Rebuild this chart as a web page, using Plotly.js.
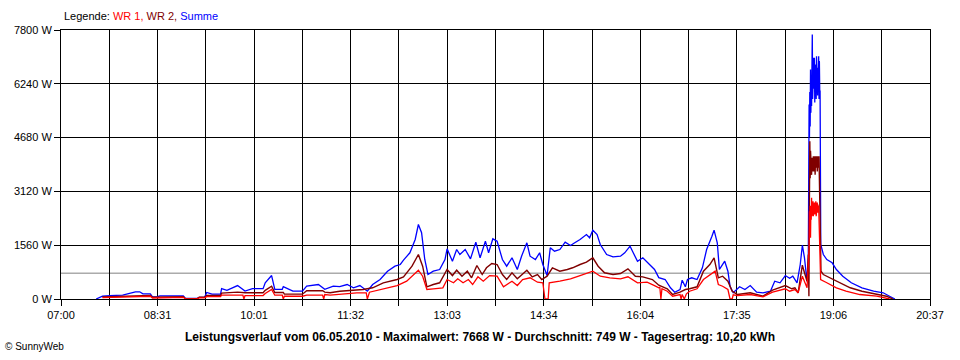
<!DOCTYPE html>
<html>
<head>
<meta charset="utf-8">
<script src="https://cdn.plot.ly/plotly-3.0.1.min.js"></script>
<style>html,body{margin:0;padding:0;background:#fff;}#chart{width:960px;height:360px;}</style>
</head>
<body>
<div id="chart"></div>
<script>
// ---- Data (time of day, watts) ----
const sumTime = ["07:33","07:39","07:46","07:58","08:10","08:14","08:17","08:24","08:26","08:30","08:33","08:55","08:57","09:08","09:10","09:15","09:17","09:22","09:30","09:31","09:36","09:46","09:53","10:00","10:10","10:12","10:18","10:21","10:28","10:29","10:38","10:47","10:51","11:02","11:08","11:16","11:22","11:29","11:35","11:41","11:48","11:53","12:00","12:07","12:14","12:19","12:22","12:28","12:33","12:36","12:39","12:42","12:45","12:50","12:56","13:01","13:03","13:08","13:12","13:15","13:20","13:25","13:30","13:34","13:39","13:42","13:46","13:50","13:55","13:59","14:04","14:09","14:13","14:18","14:21","14:26","14:30","14:33","14:37","14:40","14:44","14:49","14:54","14:59","15:03","15:08","15:14","15:17","15:20","15:24","15:27","15:33","15:39","15:46","15:50","15:55","15:58","16:02","16:07","16:12","16:18","16:22","16:28","16:33","16:37","16:42","16:44","16:47","16:49","16:53","16:58","17:03","17:07","17:12","17:14","17:17","17:19","17:21","17:24","17:27","17:29","17:32","17:38","17:43","17:48","17:54","18:00","18:07","18:11","18:16","18:21","18:25","18:28","18:32","18:35","18:37","18:39","18:40:30","18:41:24","18:42:36","18:43:00","18:43:20","18:43:40","18:44:00","18:44:20","18:44:40","18:45:00","18:45:20","18:45:40","18:46:00","18:46:20","18:46:40","18:47:00","18:47:20","18:47:40","18:48:00","18:48:20","18:48:40","18:49:00","18:49:20","18:49:40","18:50:00","18:50:20","18:50:40","18:51:00","18:51:20","18:51:40","18:52:00","18:52:20","18:52:40","18:53:00","18:53:20","18:53:40","18:54:18","18:56:42","19:00","19:05","19:09","19:15","19:23","19:33","19:44","19:53","19:59","20:04"];
const sumWatt = [0,80,96,110,209,209,150,150,60,60,90,90,15,15,50,50,190,140,140,300,250,390,230,300,300,470,680,280,280,360,230,230,375,420,280,375,360,420,325,390,226,420,565,806,951,1000,1125,1340,1725,2160,1920,1145,710,806,855,1145,1455,1096,1435,1290,1435,1165,1647,1194,1676,1340,1745,1676,1145,951,1194,855,1241,1630,1241,1145,1340,1000,680,1485,1386,1435,1647,1550,1630,1725,1870,1775,1995,1870,1580,1290,1223,1241,1340,1531,1340,1096,1194,1050,855,620,565,325,197,275,545,354,565,615,565,905,1435,1821,1995,1630,855,951,1096,806,371,180,354,275,390,197,180,226,516,470,680,600,661,470,1000,1560,1194,760,516,1194,4300,5640,4700,6000,5000,6655,5400,6316,5600,6500,7668,5800,6896,5900,6994,6100,6994,5700,6800,6000,6510,5800,7041,6000,6900,5900,6705,6100,7041,5800,6900,6026,6026,1580,1290,1145,1050,855,661,470,325,226,180,81,0];

const wr2Time = ["07:39","08:10","08:24","08:26","08:30","08:33","08:55","08:57","09:08","09:10","09:15","09:17","09:30","09:31","09:46","09:53","10:10","10:12","10:18","10:21","10:29","10:30","10:47","10:51","11:06","11:08","11:13","11:22","11:32","11:44","11:53","12:03","12:16","12:22","12:30","12:36","12:40","12:44","12:50","12:56","13:03","13:08","13:12","13:17","13:22","13:26","13:31","13:36","13:40","13:45","13:50","13:55","13:59","14:04","14:09","14:13","14:18","14:23","14:28","14:32","14:37","14:42","14:49","14:56","15:01","15:08","15:14","15:20","15:25","15:31","15:39","15:46","15:53","16:00","16:07","16:16","16:22","16:30","16:35","16:42","16:47","16:51","16:58","17:04","17:10","17:14","17:18","17:22","17:27","17:31","17:36","17:48","18:00","18:09","18:21","18:27","18:30","18:33","18:37","18:39","18:41:24","18:42:36","18:43:10","18:43:40","18:44:00","18:44:20","18:44:40","18:45:00","18:45:20","18:45:40","18:46:00","18:46:20","18:46:40","18:47:00","18:47:20","18:47:40","18:48:00","18:48:20","18:48:40","18:49:00","18:49:20","18:49:40","18:50:00","18:50:20","18:50:40","18:51:00","18:51:20","18:51:40","18:52:00","18:52:20","18:52:40","18:53:00","18:53:20","18:53:40","18:54:30","18:56:42","19:03","19:12:30","19:22","19:33","19:44","19:56","20:02"];
const wr2Watt = [60,100,100,50,50,70,70,10,10,50,50,100,100,170,200,180,180,250,370,190,190,140,140,240,240,200,180,226,255,275,325,470,565,643,951,1290,951,354,420,470,855,680,835,661,806,615,971,710,905,1030,1000,710,565,760,586,710,835,643,710,565,661,905,806,855,905,1000,1067,1194,951,760,710,740,876,661,643,565,400,296,130,197,275,296,354,806,1000,1194,615,661,516,226,130,180,81,255,390,296,325,180,980,760,516,1290,81,3000,4576,3500,4300,3706,4200,3600,4095,3700,4000,3805,4141,3700,4141,3900,4000,3600,4141,3805,4141,3900,4141,3700,4141,3900,4141,3806,4141,3500,2400,2400,806,710,615,470,325,226,150,81,0];

const wr1Time = ["07:39","08:10","08:24","08:26","08:30","08:33","08:55","08:57","09:08","09:10","09:15","09:17","09:30","09:31","09:51","09:52","09:53","10:10","10:12","10:18","10:21","10:28","10:29","10:30","10:47","10:51","11:06","11:07","11:08","11:13","11:25","11:38","11:47","11:48","11:50","12:03","12:16","12:25","12:36","12:40","12:44","12:50","12:59","13:03","13:09","13:13","13:18","13:23","13:27","13:32","13:37","13:43","13:50","13:56","14:04","14:09","14:14","14:21","14:28","14:33","14:35","14:38","14:39","14:49","14:59","15:08","15:20","15:27","15:36","15:46","15:53","16:02","16:11","16:18","16:22","16:23","16:24","16:25","16:30","16:35","16:42","16:43","16:44","16:46","16:48","16:51","16:58","17:04","17:12","17:15","17:18","17:22","17:27","17:29","17:31","17:32","17:36","17:48","18:00","18:09","18:21","18:25","18:30","18:33","18:37","18:39:30","18:41:24","18:42:36","18:43:20","18:43:40","18:44:00","18:44:20","18:44:40","18:45:00","18:45:20","18:45:40","18:46:00","18:46:20","18:46:40","18:47:00","18:47:20","18:47:40","18:48:00","18:48:20","18:48:40","18:49:00","18:49:20","18:49:40","18:50:00","18:50:20","18:50:40","18:51:00","18:51:20","18:51:40","18:52:00","18:52:20","18:52:40","18:53:00","18:53:20","18:53:40","18:54:10","19:00","19:09","19:18","19:31","19:47","19:59"];
const wr1Watt = [40,80,80,30,30,50,50,5,5,30,30,70,70,110,110,0,100,100,160,280,110,110,0,80,80,110,110,0,130,110,150,180,180,0,197,296,390,516,835,661,275,296,325,565,470,586,470,565,420,643,516,680,661,354,516,390,565,615,487,470,0,0,470,516,586,680,806,661,615,586,643,470,487,390,325,340,0,300,226,81,130,0,130,0,150,226,296,565,760,806,420,371,275,0,0,120,100,130,64,197,296,226,275,180,661,470,325,1000,1500,2546,2000,2700,1775,2600,2300,2935,2400,2700,2450,2836,2400,2750,2546,2800,2450,2700,2546,2836,2400,2740,2546,2800,2500,2740,2546,2700,2300,2600,1386,1600,565,470,325,226,130,81,0];

const averageWatt = 749;
const xTickLabels = ["07:00","08:31","10:01","11:32","13:03","14:34","16:04","17:35","19:06","20:37"];
const yTickVals = [0,1560,3120,4680,6240,7800];
const yTickLabels = ["0 W","1560 W","3120 W","4680 W","6240 W","7800 W"];
const seriesNames = ["WR 1","WR 2","Summe"];
const titleText = "Leistungsverlauf vom 06.05.2010 - Maximalwert: 7668 W - Durchschnitt: 749 W - Tagesertrag: 10,20 kWh";

// ---- helpers ----
function toMin(s){const p=s.split(':').map(Number);return p[0]*60+p[1]+(p[2]||0)/60;}
const startMin = toMin(xTickLabels[0]);
const endMin = toMin(xTickLabels[xTickLabels.length-1]);
const rel = arr => arr.map(s => toMin(s) - startMin);

const nSteps = (xTickLabels.length-1)*2;
const tickvals = [], ticktext = [];
for(let i=0;i<=nSteps;i++){
  tickvals.push((endMin-startMin)*i/nSteps);
  ticktext.push(i%2===0 ? xTickLabels[i/2] : "");
}

const FONT = "Liberation Sans, Arial, sans-serif";
const colors = {wr1:"#ff0000", wr2:"#800000", sum:"#0000ff"};

const traces = [
  {x: rel(sumTime), y: sumWatt, name: seriesNames[2], mode:"lines", line:{color:colors.sum, width:1.3}, hoverinfo:"skip"},
  {x: rel(wr2Time), y: wr2Watt, name: seriesNames[1], mode:"lines", line:{color:colors.wr2, width:1.4}, hoverinfo:"skip"},
  {x: rel(wr1Time), y: wr1Watt, name: seriesNames[0], mode:"lines", line:{color:colors.wr1, width:1.3}, hoverinfo:"skip"}
];

const layout = {
  width:960, height:360,
  margin:{l:61, r:30, t:30, b:61, pad:0},
  paper_bgcolor:"#ffffff", plot_bgcolor:"#ffffff",
  showlegend:false,
  font:{family:FONT, size:11, color:"#000"},
  xaxis:{
    range:[0, endMin-startMin], tickmode:"array", tickvals:tickvals, ticktext:ticktext,
    showgrid:true, gridcolor:"#000", gridwidth:1, zeroline:false,
    showline:true, linecolor:"#000", linewidth:1, mirror:true,
    ticks:"outside", ticklen:6, tickcolor:"#000", tickwidth:1,
    tickfont:{family:FONT, size:11, color:"#000"}
  },
  yaxis:{
    range:[0, 7800], tickmode:"array", tickvals:yTickVals, ticktext:yTickLabels,
    showgrid:true, gridcolor:"#000", gridwidth:1, zeroline:false,
    showline:true, linecolor:"#000", linewidth:1, mirror:true,
    ticks:"outside", ticklen:6, tickcolor:"#000", tickwidth:1,
    tickfont:{family:FONT, size:11, color:"#000"}
  },
  shapes:[
    {type:"line", xref:"paper", x0:0, x1:1, yref:"y", y0:averageWatt, y1:averageWatt,
     line:{color:"#808080", width:1}, layer:"between"}
  ],
  annotations:[
    {xref:"paper", yref:"paper", x:0.001, y:1.052, xanchor:"left", yanchor:"middle", showarrow:false,
     font:{family:FONT, size:11, color:"#000"},
     text:"Legende: <span style='color:"+colors.wr1+"'>"+seriesNames[0]+",</span> <span style='color:"+colors.wr2+"'>"+seriesNames[1]+",</span> <span style='color:"+colors.sum+"'>"+seriesNames[2]+"</span>"},
    {xref:"paper", yref:"paper", x:0.482, y:-0.141, xanchor:"center", yanchor:"middle", showarrow:false,
     font:{family:FONT, size:12, color:"#000"}, text:"<b>"+titleText+"</b>"},
    {xref:"paper", yref:"paper", x:-0.0667, y:-0.178, xanchor:"left", yanchor:"middle", showarrow:false,
     font:{family:FONT, size:10, color:"#000"}, text:"© SunnyWeb"}
  ]
};

Plotly.newPlot("chart", traces, layout, {staticPlot:true, displayModeBar:false});
</script>
</body>
</html>
